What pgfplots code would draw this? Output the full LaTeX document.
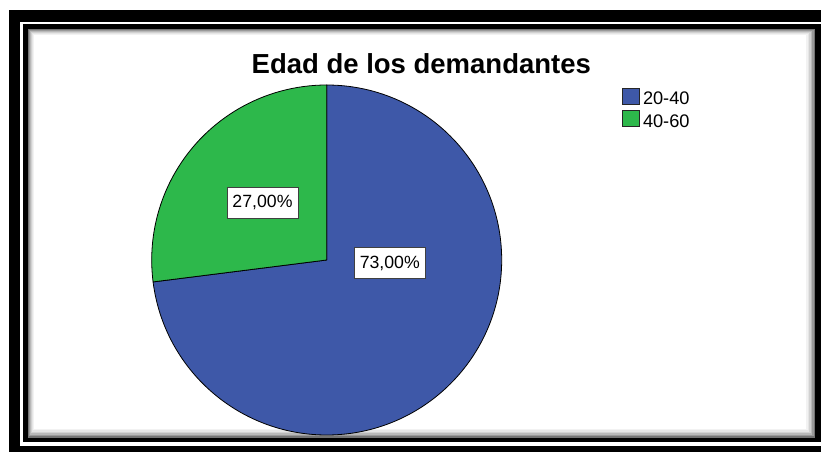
\documentclass[border=0pt]{standalone}
\usepackage{pgfplots}
\pgfplotsset{compat=1.18}
\usepackage{fontspec}
\setmainfont{Liberation Sans}

\definecolor{spssblue}{HTML}{3E58A8}
\definecolor{spssgreen}{HTML}{2DB84B}

% pie values (percent)
\def\valA{73}  % 20-40
\def\valB{27}  % 40-60

\begin{document}
\begin{tikzpicture}
\begin{axis}[width=821bp,height=452bp,scale only axis,anchor=south west,at={(0,0)},
  xmin=0,xmax=821,ymin=0,ymax=452,hide axis,clip=false]
% frame
\fill[black] (axis cs:9,0) rectangle (axis cs:821,442);
\fill[white] (axis cs:20,6) rectangle (axis cs:821,430);
\fill[black] (axis cs:23,10) rectangle (axis cs:821,428);
\fill[black!55] (axis cs:28,14) rectangle (axis cs:815,423);
\fill[black!40] (axis cs:29,15.5) rectangle (axis cs:813.5,422);
\fill[black!28] (axis cs:30,17) rectangle (axis cs:812,421);
\fill[black!18] (axis cs:31,18.5) rectangle (axis cs:810.5,420);
\fill[black!10] (axis cs:32,20) rectangle (axis cs:809,419);
\fill[black!5] (axis cs:33,21.5) rectangle (axis cs:807.5,418);
\fill[white] (axis cs:34,23) rectangle (axis cs:806,417);
% pie
\pgfmathsetmacro\angA{90-3.6*\valA}
\pgfmathsetmacro\angB{90+3.6*\valB}
\filldraw[fill=spssblue,draw=black,line width=0.8bp,line join=round]
  (axis cs:326.7,192) -- ++(90:175bp) arc[start angle=90,end angle=\angA,radius=175bp] -- cycle;
\filldraw[fill=spssgreen,draw=black,line width=0.8bp,line join=round]
  (axis cs:326.7,192) -- ++(90:175bp) arc[start angle=90,end angle=\angB,radius=175bp] -- cycle;
% labels
\node[draw=black!75,fill=white,inner sep=0,minimum width=71.6bp,minimum height=31bp,
  font=\fontsize{17.7bp}{20bp}\selectfont] at (axis cs:262.5,249.2) {27,00\%};
\node[draw=black!75,fill=white,inner sep=0,minimum width=71.6bp,minimum height=31bp,
  font=\fontsize{17.7bp}{20bp}\selectfont] at (axis cs:389.8,189) {73,00\%};
% title
\node[anchor=base,inner sep=0,font=\fontsize{27.5bp}{30bp}\selectfont\bfseries]
  at (axis cs:421.3,378.7) {Edad de los demandantes};
% legend
\filldraw[fill=spssblue,draw=black!85,line width=0.8bp] (axis cs:622.8,347.5) rectangle (axis cs:639.5,363.5);
\filldraw[fill=spssgreen,draw=black!85,line width=0.8bp] (axis cs:622.8,325.5) rectangle (axis cs:639.5,341.5);
\node[anchor=base west,inner sep=0,font=\fontsize{18.2bp}{20bp}\selectfont] at (axis cs:642.8,347) {20-40};
\node[anchor=base west,inner sep=0,font=\fontsize{18.2bp}{20bp}\selectfont] at (axis cs:642.8,324.5) {40-60};
\end{axis}
\pgfresetboundingbox
\path (0,0) rectangle (821bp,452bp);
\end{tikzpicture}
\end{document}
